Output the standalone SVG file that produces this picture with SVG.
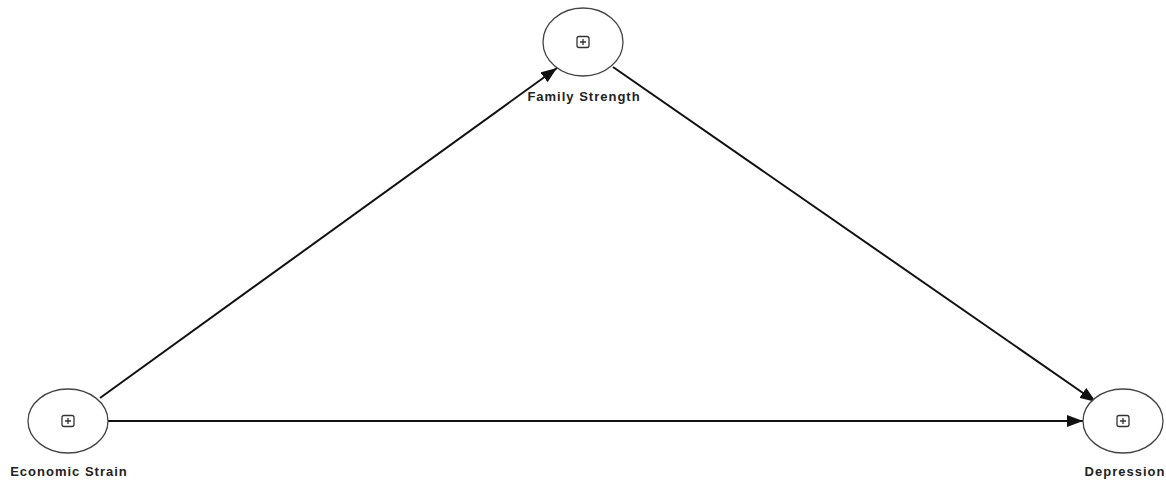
<svg xmlns="http://www.w3.org/2000/svg" width="1166" height="481" viewBox="0 0 1166 481">
<style>
.node ellipse{fill:#fff;stroke:#444;stroke-width:1.3}
.icon{fill:#fff;stroke:#333;stroke-width:1.3}
.plus{stroke:#333;stroke-width:1.3}
.lbl{font-family:"Liberation Sans",Arial,sans-serif;font-weight:bold;font-size:13px;letter-spacing:1px;fill:#222;text-anchor:middle}
.edge{stroke:#111;stroke-width:2;fill:none}
</style>
<defs>
<marker id="arrow" viewBox="0 0 16 12" refX="16" refY="6" markerWidth="16" markerHeight="12" markerUnits="userSpaceOnUse" orient="auto">
<path d="M0,0 L16,6 L0,12 z" fill="#111"/>
</marker>
</defs>
<g id="connectors">
<line class="edge" x1="100" y1="398" x2="557" y2="68" marker-end="url(#arrow)"/>
<line class="edge" x1="613" y1="67" x2="1096" y2="402" marker-end="url(#arrow)"/>
<line class="edge" x1="108" y1="421" x2="1083" y2="421" marker-end="url(#arrow)"/>
</g>
<g id="family-strength" class="node">
<ellipse cx="583" cy="42" rx="40" ry="34"/>
<rect class="icon" x="577" y="36.5" width="12" height="11" rx="2"/>
<path class="plus" d="M583,39 V45 M580,42 H586"/>
<text class="lbl" x="584" y="101">Family Strength</text>
</g>
<g id="economic-strain" class="node">
<ellipse cx="68" cy="421" rx="40" ry="32"/>
<rect class="icon" x="62" y="415.5" width="12" height="11" rx="2"/>
<path class="plus" d="M68,418 V424 M65,421 H71"/>
<text class="lbl" x="69" y="476">Economic Strain</text>
</g>
<g id="depression" class="node">
<ellipse cx="1123" cy="421" rx="40" ry="32"/>
<rect class="icon" x="1117" y="415.5" width="12" height="11" rx="2"/>
<path class="plus" d="M1123,418 V424 M1120,421 H1126"/>
<text class="lbl" x="1125" y="476">Depression</text>
</g>
</svg>
